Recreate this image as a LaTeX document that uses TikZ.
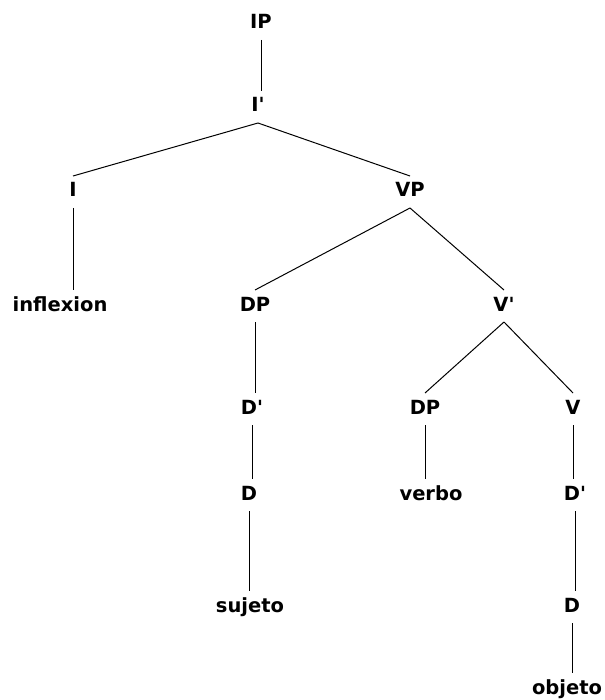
\documentclass[tikz,border=0pt]{standalone}
\usepackage{fontspec}
% a family of its own, so the straight apostrophe is kept as typed
\newfontfamily\lblfont{DejaVu Sans}
\begin{document}
\begin{tikzpicture}[x=1pt,y=-1pt,
  lbl/.style={font=\lblfont\fontsize{19.5}{22}\selectfont\bfseries, anchor=base,
    inner sep=0pt, text height=14pt, text depth=4pt, outer ysep=7pt},
  branch/.style={line width=1pt, black}]
\useasboundingbox (0,0) rectangle (604,700);
% labels, placed by baseline
\node[lbl] (ip)   at (261,29)  {IP};
\node[lbl] (ibar) at (258,112) {I'};
\node[lbl] (i)    at (73,197)  {I};
\node[lbl] (vp)   at (410,197) {VP};
\node[lbl] (infl) at (60,311)  {inflexion};
\node[lbl] (dp)   at (255,311) {DP};
\node[lbl] (vbar) at (504,311) {V'};
\node[lbl] (dbar) at (252,414) {D'};
\node[lbl] (dpb)  at (425,414) {DP};
\node[lbl] (v)    at (573,414) {V};
\node[lbl] (d)    at (249,500) {D};
\node[lbl] (verb) at (431,500) {verbo};
\node[lbl] (dbarb) at (575,500) {D'};
\node[lbl] (suj)  at (250,612) {sujeto};
\node[lbl] (db)   at (572,612) {D};
\node[lbl] (obj)  at (567,694) {objeto};
% branches
\draw[branch] (ip.south) -- (ip.south |- ibar.north);
\draw[branch] (ibar.south) -- (i.north);
\draw[branch] (ibar.south) -- (vp.north);
\draw[branch] (i.south) -- (i.south |- infl.north);
\draw[branch] (vp.south) -- (dp.north);
\draw[branch] (vp.south) -- (vbar.north);
\draw[branch] (dp.south) -- (dp.south |- dbar.north);
\draw[branch] (dbar.south) -- (dbar.south |- d.north);
\draw[branch] (d.south) -- (d.south |- suj.north);
\draw[branch] (vbar.south) -- (dpb.north);
\draw[branch] (vbar.south) -- (v.north);
\draw[branch] (dpb.south) -- (dpb.south |- verb.north);
\draw[branch] (v.south) -- (v.south |- dbarb.north);
\draw[branch] (dbarb.south) -- (dbarb.south |- db.north);
\draw[branch] (db.south) -- (db.south |- obj.north);
\end{tikzpicture}
\end{document}
